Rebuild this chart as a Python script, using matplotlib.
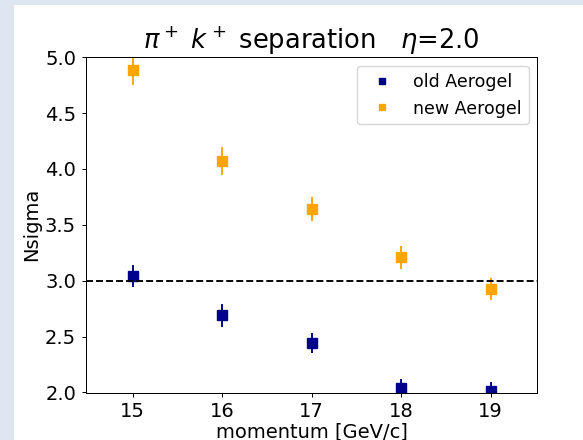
import numpy as np
import matplotlib.pyplot as plt
from matplotlib.patches import Rectangle

# momentum points [GeV/c]
p = [15, 16, 17, 18, 19]

# Nsigma values
old_ns = [3.04, 2.69, 2.445, 2.04, 2.01]
old_err = [0.10, 0.10, 0.09, 0.08, 0.08]
new_ns = [4.885, 4.075, 3.64, 3.21, 2.925]
new_err = [0.13, 0.125, 0.11, 0.105, 0.10]

s = 0.907  # the original figure was shown a bit smaller
W, H = 583, 440

fig = plt.figure(figsize=(W/100., H/100.), dpi=100)
fig.patch.set_facecolor('#dde6f1')
fig.patches.append(Rectangle((14./W, 0), 1, 1-5./H, transform=fig.transFigure,
                             facecolor='white', edgecolor='none', zorder=-5))

ax = fig.add_axes([86./W, 1-392.5/H, 451.3/W, 335.3/H])
ax.set_zorder(2)
ax.set_facecolor('white')

ax.errorbar(p, old_ns, yerr=old_err, fmt='none', ecolor='darkblue', elinewidth=1.5*s)
ax.errorbar(p, new_ns, yerr=new_err, fmt='none', ecolor='orange', elinewidth=1.5*s)
ax.plot(p, old_ns, 's', color='darkblue', ms=7.5*s, label='old Aerogel')
ax.plot(p, new_ns, 's', color='orange', ms=7.5*s, label='new Aerogel')
ax.axhline(3.0, color='black', ls='--', lw=1.5*s)

ax.set_xlim(14.48, 19.52)
ax.set_ylim(2.0, 5.0)
ax.set_xticks(p)
ax.set_xlabel('momentum [GeV/c]', fontsize=14, labelpad=1)
ax.set_ylabel('Nsigma', fontsize=14, labelpad=3)
ax.set_title(r'$\pi^+$ $k^+$ separation   $\eta$=2.0', fontsize=18.5, pad=4)
ax.tick_params(labelsize=14, width=0.8*s, length=3.5*s, pad=4)
for sp in ax.spines.values():
    sp.set_linewidth(0.8*s)
ax.legend(loc='upper right', markerscale=0.7, fontsize=12.5)

fig.savefig('out.png', dpi=100, facecolor=fig.get_facecolor())
